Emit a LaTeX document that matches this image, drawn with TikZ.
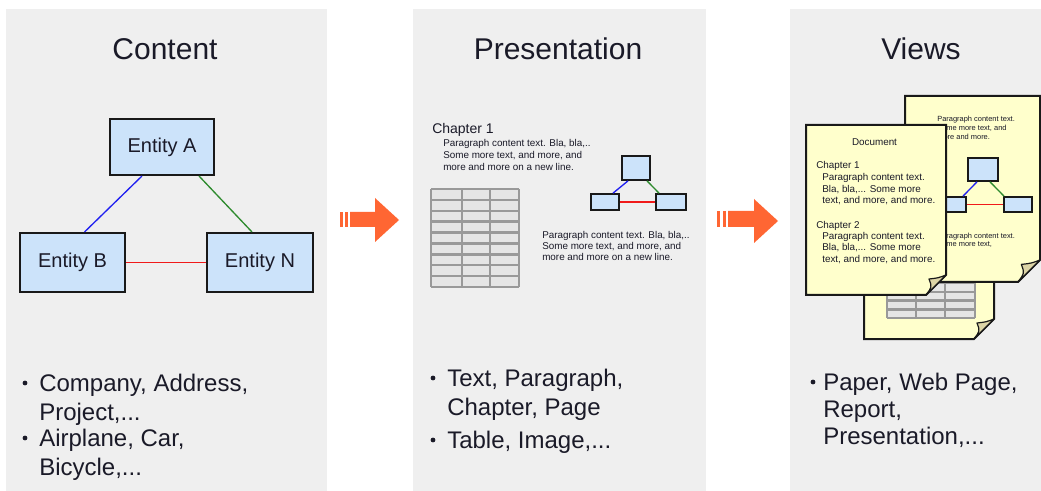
\documentclass[tikz,border=0pt]{standalone}
\usepackage{fontspec}
\setmainfont{Liberation Sans}
\usetikzlibrary{calc}
\definecolor{panel}{HTML}{EFEFEF}
\definecolor{boxblue}{HTML}{CCE3FA}
\definecolor{docyellow}{HTML}{FFFFCC}
\definecolor{foldtan}{HTML}{DCD4A6}
\definecolor{arroworange}{HTML}{FF6633}
\definecolor{tablegrid}{HTML}{999999}
\definecolor{tablecell}{HTML}{E5E5E5}
\definecolor{ink}{HTML}{1A1A28}
\definecolor{linkblue}{HTML}{2020F0}
\definecolor{linkgreen}{HTML}{2E8B2E}
\definecolor{linkred}{HTML}{F01A1A}
\newcommand\docpage[5]{%
  \draw[docstyle] (#1,#2) -- (#3,#2) -- (#3,#4-#5) -- (#3-#5,#4) -- (#1,#4) -- cycle;
  \draw[foldstyle] (#3,#4-#5) .. controls (#3-0.4*#5,#4-0.85*#5) .. (#3-0.85*#5,#4-0.8*#5)
    .. controls (#3-0.7*#5,#4-0.4*#5) .. (#3-#5,#4) -- cycle;}
\newcommand\gridtable[6]{% x1 y1 x2 y2 rows, col dividers list
  \fill[tablecell] (#1,#2) rectangle (#3,#4);
  \foreach \k in {0,...,#5} {\draw[gridline] (#1,{#2+\k*(#4-#2)/#5}) -- (#3,{#2+\k*(#4-#2)/#5});}
  \foreach \c in {#1,#6,#3} {\draw[gridline] (\c,#2) -- (\c,#4);}}
\begin{document}
\begin{tikzpicture}[x=0.75pt,y=-0.75pt,
  panelbg/.style={fill=panel,draw=none},
  entity/.style={draw=black!90,fill=boxblue,line width=1.5pt,inner sep=0,
    font=\fontsize{15}{18}\selectfont,text=ink},
  minibox/.style={draw=black!90,fill=boxblue,line width=1.3pt,inner sep=0},
  titletext/.style={font=\fontsize{22.5}{27}\selectfont,text=ink,anchor=base,inner sep=0},
  itemtext/.style={font=\fontsize{18}{21}\selectfont,text=ink,anchor=base west,inner sep=0},
  smalltext/.style={font=\fontsize{7.4}{9}\selectfont,text=ink,anchor=base west,inner sep=0},
  chaptext/.style={font=\fontsize{10.5}{12}\selectfont,text=ink,anchor=base west,inner sep=0},
  tinytext/.style={font=\fontsize{5.6}{6.75}\selectfont,text=ink,anchor=base west,inner sep=0},
  docstyle/.style={fill=docyellow,draw=black!90,line width=1.5pt},
  foldstyle/.style={fill=foldtan,draw=black!90,line width=0.9pt,line join=round},
  gridline/.style={draw=tablegrid,line width=1.9pt},
  bulletdot/.style={fill=ink},
  bigarrow/.style={fill=arroworange,draw=none},
  lnblue/.style={draw=linkblue,line width=1pt},
  lngreen/.style={draw=linkgreen,line width=1pt},
  lnred/.style={draw=linkred,line width=1pt},
]
\useasboundingbox (0,0) rectangle (1041,491);
\fill[white] (0,0) rectangle (1041,491);
% panels
\fill[panelbg] (6,9) rectangle (327,491);
\fill[panelbg] (413,9) rectangle (706,491);
\fill[panelbg] (790,9) rectangle (1041,491);
% titles
\node[titletext] (t1) at (165,60) {Content};
\node[titletext] (t2) at (558,60) {Presentation};
\node[titletext] (t3) at (921,60) {Views};

% ---------- Content ----------
\node[entity,minimum width=104*0.75pt,minimum height=56*0.75pt] (A) at (162,147) {Entity A};
\node[entity,minimum width=105*0.75pt,minimum height=59*0.75pt] (B) at (72.5,262.5) {Entity B};
\node[entity,minimum width=106*0.75pt,minimum height=59*0.75pt] (N) at (260,262.5) {Entity N};
\draw[lnblue] ($(A.south)+(-20,0)$) -- ($(B.north)+(12,0)$);
\draw[lngreen] ($(A.south)+(37,0)$) -- ($(N.north)+(-8,0)$);
\draw[lnred] (B.east) -- (N.west);

\fill[bulletdot] (25,383) circle[radius=1.8pt];
\fill[bulletdot] (25,438) circle[radius=1.8pt];
\node[itemtext] (c1) at (39,391) {Company, Address,};
\node[itemtext] (c2) at (39,420) {Project,...};
\node[itemtext] (c3) at (39,446) {Airplane, Car,};
\node[itemtext] (c4) at (39,475) {Bicycle,...};

% arrow 1
\fill[bigarrow] (340,212) rectangle (343,227);
\fill[bigarrow] (345,212) rectangle (348,227);
\fill[bigarrow] (350,212) -- (375,212) -- (375,198) -- (399,220) -- (375,242) -- (375,227) -- (350,227) -- cycle;

% ---------- Presentation ----------
\node[chaptext] (ch) at (432,134) {Chapter 1};
\node[smalltext] (p1a) at (443,146.5) {Paragraph content text. Bla, bla,..};
\node[smalltext] (p1b) at (443,158.5) {Some more text, and more, and};
\node[smalltext] (p1c) at (443,170.5) {more and more on a new line.};
\gridtable{431}{189}{519}{287}{9}{462,490}
\node[minibox,minimum width=28*0.75pt,minimum height=24*0.75pt] (pt) at (636,168) {};
\node[minibox,minimum width=28*0.75pt,minimum height=16*0.75pt] (pl) at (605,202) {};
\node[minibox,minimum width=30*0.75pt,minimum height=16*0.75pt] (pr) at (671,202) {};
\draw[lnblue] ($(pt.south)+(-8,0)$) -- ($(pl.north)+(8,0)$);
\draw[lngreen] ($(pt.south)+(11,0)$) -- ($(pr.north)+(-12,0)$);
\draw[lnred] (pl.east) -- (pr.west);
\node[smalltext] (p2a) at (542,238.5) {Paragraph content text. Bla, bla,..};
\node[smalltext] (p2b) at (542,249.5) {Some more text, and more, and};
\node[smalltext] (p2c) at (542,260.5) {more and more on a new line.};

\fill[bulletdot] (433,378) circle[radius=1.8pt];
\fill[bulletdot] (433,440) circle[radius=1.8pt];
\node[itemtext] (q1) at (447,386) {Text, Paragraph,};
\node[itemtext] (q2) at (447,415) {Chapter, Page};
\node[itemtext] (q3) at (447,448) {Table, Image,...};

% arrow 2
\fill[bigarrow] (717,211) rectangle (720,227);
\fill[bigarrow] (722.5,211) rectangle (726,227);
\fill[bigarrow] (728,211) -- (754,211) -- (754,199) -- (778,221) -- (754,243) -- (754,227) -- (728,227) -- cycle;

% ---------- Views ----------
% table page (back-most)
\docpage{864}{200}{994}{339}{20}
\gridtable{887}{231}{975}{318}{10}{916,945}
% diagram page
\docpage{905}{96}{1040}{282}{22}
\node[tinytext] (b1) at (937,121.6) {Paragraph content text.};
\node[tinytext] (b2) at (937,130.6) {Some more text, and};
\node[tinytext] (b3) at (937,139.6) {more and more.};
\node[minibox,minimum width=30*0.75pt,minimum height=23*0.75pt] (vt) at (983,169.5) {};
\node[minibox,minimum width=30*0.75pt,minimum height=15*0.75pt] (vl) at (951,204.5) {};
\node[minibox,minimum width=28*0.75pt,minimum height=15*0.75pt] (vr) at (1018,204.5) {};
\draw[lnblue] ($(vt.south)+(-6,0)$) -- ($(vl.north)+(12,0)$);
\draw[lngreen] ($(vt.south)+(7,0)$) -- ($(vr.north)+(-14,0)$);
\draw[lnred] (vl.east) -- (vr.west);
\node[tinytext] (b4) at (937,238.6) {Paragraph content text.};
\node[tinytext] (b5) at (937,246.6) {Some more text,};
% front page
\docpage{806}{125}{946}{295}{20}
\node[smalltext,anchor=base] (d0) at (874.5,145.5) {Document};
\node[smalltext] (d1) at (816,168.5) {Chapter 1};
\node[smalltext] (d2) at (822,180.5) {Paragraph content text.};
\node[smalltext] (d3) at (822,192.5) {Bla, bla,... Some more};
\node[smalltext] (d4) at (822,203.5) {text, and more, and more.};
\node[smalltext] (d5) at (816,228.5) {Chapter 2};
\node[smalltext] (d6) at (822,239.5) {Paragraph content text.};
\node[smalltext] (d7) at (822,250.5) {Bla, bla,... Some more};
\node[smalltext] (d8) at (822,262.5) {text, and more, and more.};

\fill[bulletdot] (813,382) circle[radius=1.8pt];
\node[itemtext] (v1) at (823,390) {Paper, Web Page,};
\node[itemtext] (v2) at (823,417) {Report,};
\node[itemtext] (v3) at (823,444) {Presentation,...};
\end{tikzpicture}
\end{document}
